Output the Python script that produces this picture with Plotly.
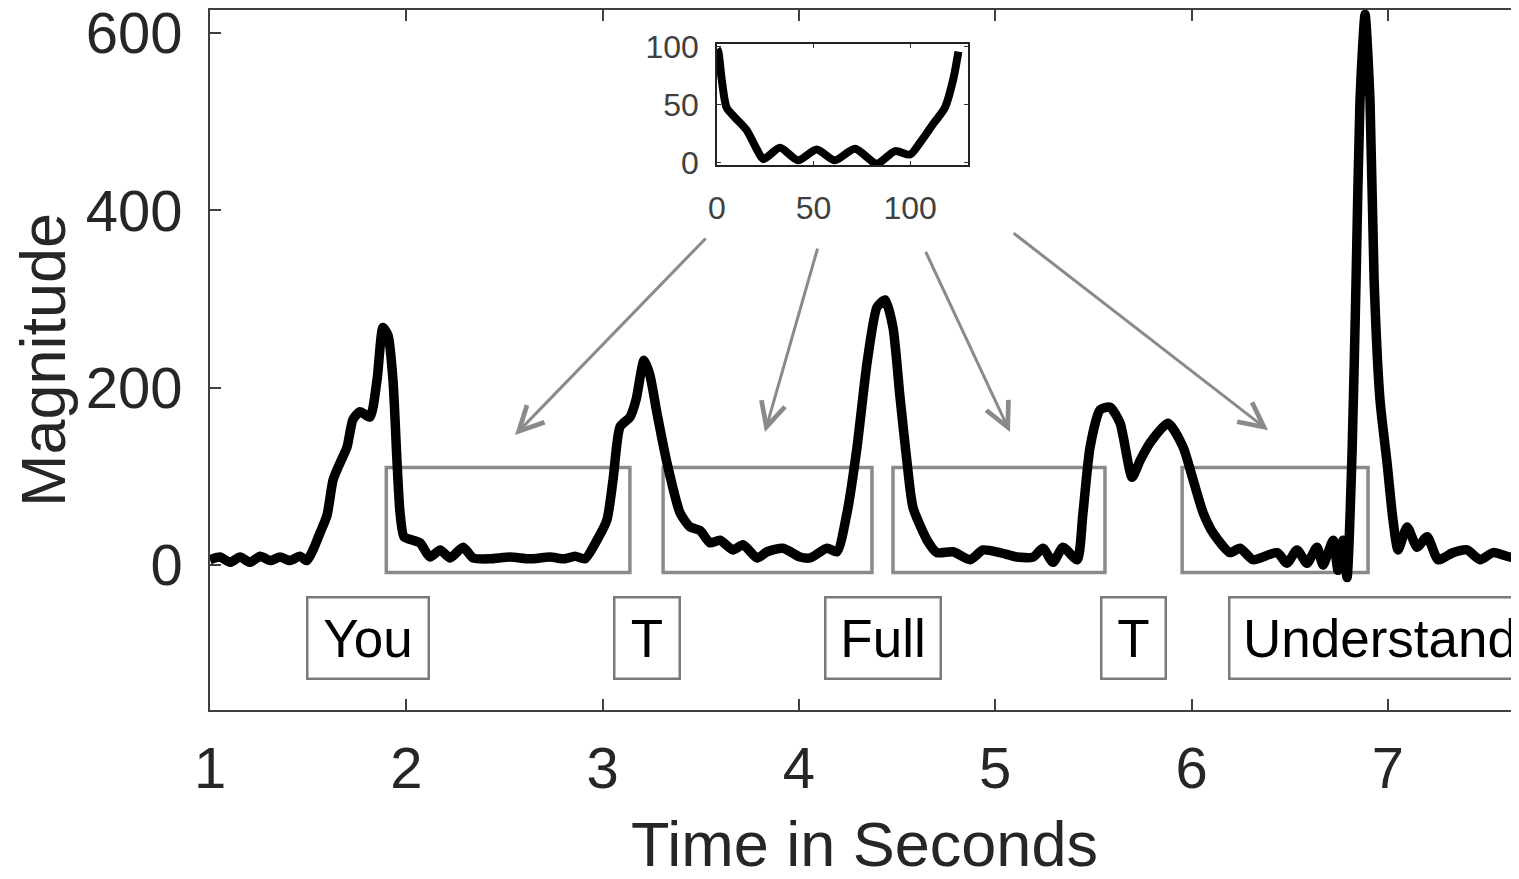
import plotly.graph_objects as go

# ---------------- data ----------------
time_s = [1.000, 1.051, 1.102, 1.153, 1.204, 1.255, 1.306, 1.357, 1.408, 1.458,
          1.494, 1.525, 1.560, 1.596, 1.627, 1.662, 1.698, 1.728, 1.764, 1.815,
          1.851, 1.881, 1.907, 1.932, 1.953, 1.968, 1.988, 2.034, 2.070, 2.121,
          2.172, 2.223, 2.289, 2.340, 2.426, 2.528, 2.630, 2.732, 2.808, 2.859,
          2.910, 2.971, 3.022, 3.053, 3.089, 3.140, 3.170, 3.211, 3.241, 3.277,
          3.328, 3.394, 3.445, 3.496, 3.547, 3.598, 3.664, 3.715, 3.787, 3.838,
          3.919, 4.006, 4.057, 4.143, 4.194, 4.245, 4.296, 4.347, 4.398, 4.439,
          4.479, 4.515, 4.551, 4.581, 4.653, 4.703, 4.785, 4.872, 4.938, 5.024,
          5.111, 5.193, 5.243, 5.294, 5.345, 5.417, 5.447, 5.483, 5.534, 5.585,
          5.636, 5.697, 5.738, 5.789, 5.880, 5.957, 6.008, 6.059, 6.110, 6.196,
          6.247, 6.313, 6.436, 6.486, 6.537, 6.588, 6.639, 6.670, 6.721, 6.746,
          6.772, 6.792, 6.818, 6.838, 6.858, 6.884, 6.909, 6.930, 6.960, 6.996,
          7.026, 7.052, 7.098, 7.149, 7.200, 7.256, 7.332, 7.403, 7.470, 7.536,
          7.622, 7.668]
magnitude = [6, 9, 3, 9, 3, 10, 5, 9, 5, 10,
             5, 17, 36, 56, 96, 115, 133, 164, 173, 167,
             209, 268, 259, 209, 115, 59, 32, 28, 25, 9,
             17, 8, 20, 8, 7, 9, 7, 9, 7, 10,
             7, 28, 51, 96, 156, 167, 186, 231, 214, 171,
             115, 59, 43, 39, 25, 28, 17, 23, 8, 15,
             19, 9, 8, 19, 15, 59, 133, 228, 291, 299,
             268, 189, 115, 65, 28, 14, 15, 6, 17, 14,
             9, 9, 19, 3, 20, 6, 59, 133, 175, 178,
             160, 99, 118, 138, 160, 133, 96, 59, 36, 14,
             19, 6, 14, 2, 17, 2, 20, 0, 28, -6,
             28, -14, 130, 321, 524, 621, 524, 321, 186, 115,
             51, 17, 43, 20, 32, 6, 14, 17, 6, 14,
             9, 9]

inset_x = [0, 0.7, 2.4, 5, 9.3, 15.4, 20.6, 24, 32.6, 42, 51.6, 61, 71.5, 82.7,
           92.2, 100, 105, 112, 118, 122.4, 125]
inset_y = [98, 96, 72.5, 47.5, 39, 28, 11.7, 3, 12.8, 2, 11.4, 2, 12, -1,
           10, 7, 17, 33.6, 47.5, 72.5, 96]

# highlighted silent regions (gray rectangles)
region_x0 = [1.898, 3.308, 4.479, 5.952]
region_x1 = [3.139, 4.372, 5.559, 6.899]
region_y0 = -8.5
region_y1 = 110

# word labels
word_text = ["You", "T", "Full", "T", "Understand"]
word_x = [1.805, 3.226, 4.428, 5.705, 6.186]
word_anchor = ["center", "center", "center", "center", "left"]
word_box_w = [124, 68, 118, 67, 304]
word_y = -82.3

# arrows from inset to regions (head, tail)
arrow_head_x = [2.554, 3.827, 5.075, 6.390]
arrow_head_y = [146.6, 150, 150, 152]
arrow_tail_x = [3.532, 4.097, 4.642, 5.086]
arrow_tail_y = [370, 358.6, 355, 375.6]

x_ticks = [1, 2, 3, 4, 5, 6, 7]
y_ticks = [0, 200, 400, 600]
inset_ticks = [0, 50, 100]

# ---------------- figure ----------------
FONT = "Liberation Sans, Arial, Helvetica, sans-serif"
AX = "#404040"
TXT = "#262626"
GRAY = "#8a8a8a"

fig = go.Figure()
fig.add_trace(go.Scatter(x=time_s, y=magnitude, mode="lines",
                         line=dict(color="black", width=9.5, shape="spline", smoothing=0.6),
                         showlegend=False, hoverinfo="skip"))
fig.add_trace(go.Scatter(x=inset_x, y=inset_y, mode="lines", xaxis="x2", yaxis="y2",
                         line=dict(color="black", width=8, shape="spline", smoothing=0.7),
                         showlegend=False, hoverinfo="skip"))

for x0, x1 in zip(region_x0, region_x1):
    fig.add_shape(type="rect", xref="x", yref="y", x0=x0, x1=x1, y0=region_y0, y1=region_y1,
                  line=dict(color=GRAY, width=3.5), layer="below")

for t, x, anc, w in zip(word_text, word_x, word_anchor, word_box_w):
    fig.add_annotation(x=x, y=word_y, xref="x", yref="y", text=t, showarrow=False,
                       xanchor=anc, yanchor="middle",
                       font=dict(family=FONT, size=53, color="black"),
                       bordercolor="#7a7a7a", borderwidth=2.5, borderpad=4,
                       width=w - 13, height=84 - 13, align="center", bgcolor="white")

for hx, hy, tx, ty in zip(arrow_head_x, arrow_head_y, arrow_tail_x, arrow_tail_y):
    fig.add_annotation(x=hx, y=hy, xref="x", yref="y", ax=tx, ay=ty, axref="x", ayref="y",
                       text="", showarrow=True, arrowhead=5, arrowsize=1.6,
                       arrowwidth=3, arrowcolor=GRAY, standoff=0)

# page body has an 8px default margin -> figure is 8px smaller so it ends at the window edge
fig.update_layout(
    width=1511, height=871,
    margin=dict(l=202, r=0, t=2, b=169, autoexpand=False),
    paper_bgcolor="white", plot_bgcolor="white",
    font=dict(family=FONT, color=TXT),
    xaxis=dict(range=[1, 7.668], tickvals=x_ticks, ticks="inside", ticklen=11, tickwidth=1.5,
               tickcolor=AX, showline=True, linecolor=AX, linewidth=1.5, mirror="ticks",
               showgrid=False, zeroline=False, tickfont=dict(size=58, color=TXT),
               ticklabelstandoff=7, automargin=False, ticklabeloverflow="allow",
               title=dict(text="Time in Seconds", font=dict(size=63, color=TXT), standoff=42)),
    yaxis=dict(range=[-163.5, 626], tickvals=y_ticks, ticks="inside", ticklen=11, tickwidth=1.5,
               tickcolor=AX, showline=True, linecolor=AX, linewidth=1.5, mirror=False,
               showgrid=False, zeroline=False, tickfont=dict(size=58, color=TXT),
               ticklabelstandoff=14, automargin=False, ticklabeloverflow="allow",
               title=dict(text="Magnitude", font=dict(size=63, color=TXT), standoff=12)),
    xaxis2=dict(domain=[0.3873, 0.5791], anchor="y2", range=[0, 130], tickvals=inset_ticks,
                ticks="inside", ticklen=4, tickwidth=1, tickcolor="#333333",
                showline=True, linecolor="#222222", linewidth=1.5, mirror="ticks",
                showgrid=False, zeroline=False, tickfont=dict(size=32, color=AX),
                ticklabelstandoff=14, automargin=False),
    yaxis2=dict(domain=[0.7786, 0.9514], anchor="x2", range=[-2, 102.5], tickvals=inset_ticks,
                ticks="inside", ticklen=4, tickwidth=1, tickcolor="#333333",
                showline=True, linecolor="#222222", linewidth=1.5, mirror="ticks",
                showgrid=False, zeroline=False, tickfont=dict(size=32, color=AX),
                ticklabelstandoff=10, automargin=False),
)

fig.write_html("out.html")
